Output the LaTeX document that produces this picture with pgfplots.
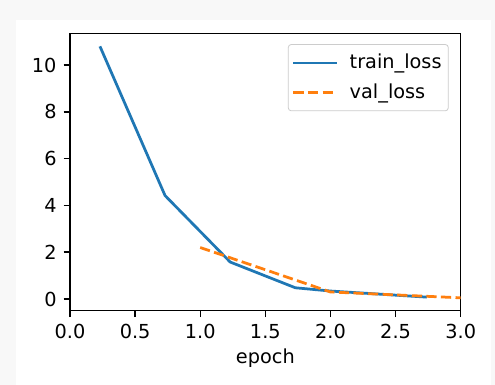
\documentclass[border=0pt]{standalone}
\usepackage{fontspec}
\setmainfont{DejaVu Sans}
\usepackage{pgfplots}
\pgfplotsset{compat=1.18}
\definecolor{mplblue}{HTML}{1F77B4}
\definecolor{mplorange}{HTML}{FF7F0E}
\definecolor{pagegray}{HTML}{F8F8F8}
\begin{document}
\begin{tikzpicture}[x=0.5pt,y=0.5pt]
\fill[pagegray] (0,0) rectangle (495,385);
\fill[white] (16,0) rectangle (491,365);
\useasboundingbox (0,0) rectangle (495,385);
\begin{axis}[
  at={(35pt,37.15pt)}, anchor=south west,
  scale only axis, width=195.35pt, height=138.5pt,
  xmin=0, xmax=3, ymin=-0.5, ymax=11.34,
  xtick={0,0.5,...,3.0}, ytick={0,2,...,10},
  xticklabel style={/pgf/number format/.cd,fixed,fixed zerofill,precision=1},
  /pgf/number format/assume math mode=true,
  tick label style={font=\fontsize{9.65}{11.5}\selectfont},
  label style={font=\fontsize{9.65}{11.5}\selectfont},
  xlabel={epoch},
  xlabel style={yshift=2pt},
  tick align=outside, tick pos=left,
  major tick length=3.2pt,
  every tick/.style={black, line width=0.73pt},
  axis line style={line width=0.73pt},
  legend cell align=left,
  legend image code/.code={\draw[#1, line width=1.375pt] (0pt,0pt) -- (21.7pt,0pt);},
  legend style={at={(1,1)}, xshift=-6pt, yshift=-5.2pt, anchor=north east,
    draw=black!20, rounded corners=1.5pt, fill=white, fill opacity=0.8, text opacity=1,
    font=\fontsize{9.65}{11.5}\selectfont, inner xsep=1.85pt, inner ysep=3.3pt,
    row sep=2.9pt, column sep=4.3pt,
    nodes={inner sep=1.5pt}},
]
\addplot[mplblue, line width=1.375pt] coordinates {
  (0.23,10.8) (0.73,4.42) (1.23,1.58) (1.73,0.48) (2.0,0.34) (2.74,0.08)
};
\addlegendentry{train\_loss}
\addplot[mplorange, line width=1.375pt, dash pattern=on 5.1pt off 2.2pt] coordinates {
  (1,2.2) (2,0.3) (3,0.05)
};
\addlegendentry{val\_loss}
\end{axis}
\end{tikzpicture}
\end{document}
